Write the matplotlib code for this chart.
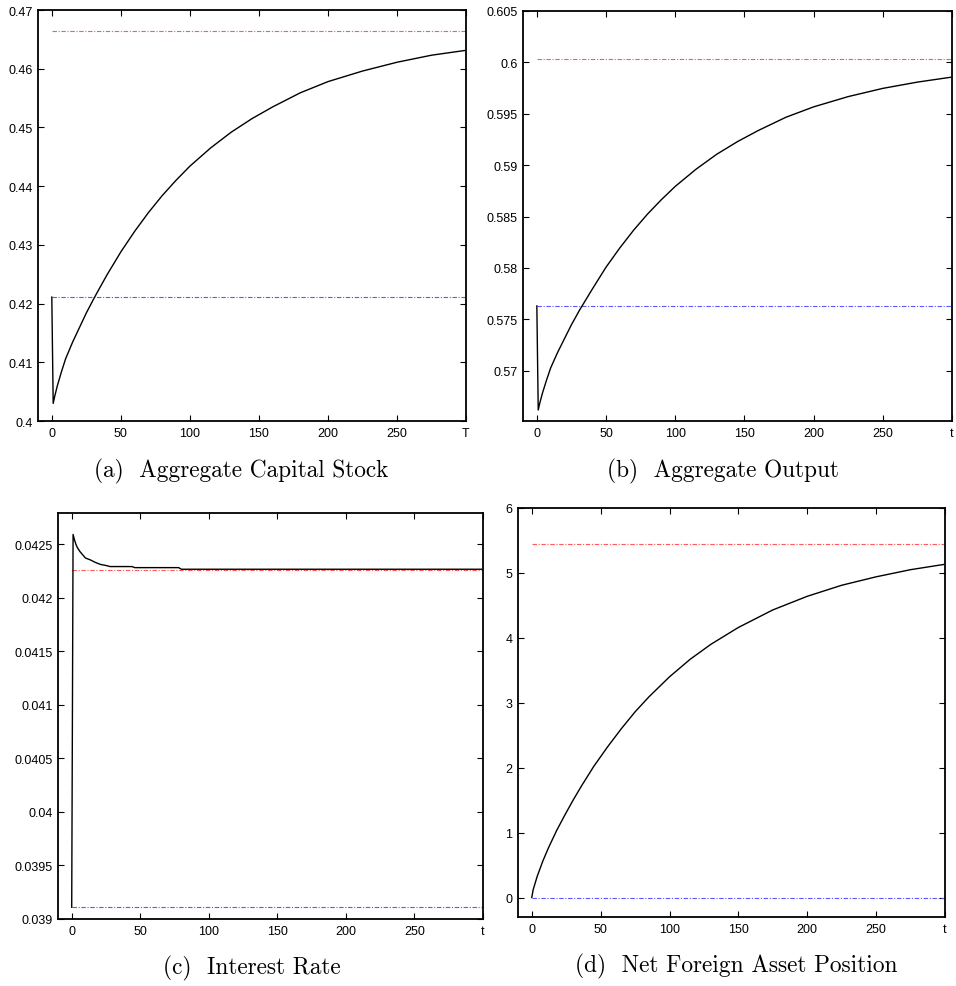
import matplotlib.pyplot as plt

W, H = 956, 987

# (a) aggregate capital stock
cap_t = [0, 1, 2, 4, 7, 10, 15, 20, 25, 31, 40, 50, 60, 70, 80, 90, 100, 115, 130, 145,
         160, 180, 200, 225, 250, 275, 299]
cap_k = [0.4211, 0.4030, 0.4041, 0.4060, 0.4084, 0.4106, 0.4134, 0.4159, 0.4184, 0.4211,
         0.4249, 0.4288, 0.4323, 0.4355, 0.4384, 0.4410, 0.4434, 0.4465, 0.4492, 0.4515,
         0.4535, 0.4559, 0.4578, 0.4596, 0.4611, 0.4623, 0.4631]
cap_new, cap_old = 0.4664, 0.4211

# (b) aggregate output
out_t = [0, 1, 2, 4, 7, 10, 15, 20, 25, 31, 40, 50, 60, 70, 80, 90, 100, 115, 130, 145,
         160, 180, 200, 225, 250, 275, 299]
out_y = [0.5763, 0.56617, 0.56677, 0.56779, 0.56908, 0.57027, 0.57177, 0.57312, 0.57447,
         0.57592, 0.57792, 0.58007, 0.58195, 0.58368, 0.58524, 0.58664, 0.58793, 0.5896,
         0.59106, 0.59229, 0.59337, 0.59466, 0.59567, 0.59667, 0.59747, 0.59808, 0.59855]
out_new, out_old = 0.60032, 0.5763

# (c) interest rate
r_t = [0, 1, 2, 3, 4, 5, 6, 8, 10, 12, 14, 17, 21, 25, 28, 44, 46, 78, 80, 299]
r_y = [0.03911, 0.04259, 0.04254, 0.04250, 0.04247, 0.04245, 0.04243, 0.04240, 0.04237,
       0.04236, 0.04235, 0.04233, 0.04231, 0.04230, 0.04229, 0.04229, 0.04228, 0.04228,
       0.042265, 0.042265]
r_new, r_old = 0.042255, 0.03911

# (d) net foreign asset position
nfa_t = [0, 1, 4, 8, 12, 18, 24, 30, 36, 45, 55, 65, 75, 85, 100, 115, 130, 150, 175,
         200, 225, 250, 275, 299]
nfa = [0.0, 0.12, 0.33, 0.56, 0.76, 1.03, 1.27, 1.50, 1.715, 2.02, 2.32, 2.60, 2.86,
       3.09, 3.40, 3.67, 3.90, 4.16, 4.43, 4.64, 4.81, 4.94, 5.05, 5.13]
nfa_new, nfa_old = 5.44, 0.0

xticks = [0, 50, 100, 150, 200, 250, 300]

panels = [
    dict(box=(38, 466, 11, 422), t=cap_t, y=cap_k, new=cap_new, old=cap_old,
         ylim=(0.40, 0.47), yticks=[0.40, 0.41, 0.42, 0.43, 0.44, 0.45, 0.46, 0.47],
         ylabels=['0.4', '0.41', '0.42', '0.43', '0.44', '0.45', '0.46', '0.47'],
         last='T', cap='(a)  Aggregate Capital Stock', capxy=(241, 471)),
    dict(box=(523, 952, 12, 422), t=out_t, y=out_y, new=out_new, old=out_old,
         ylim=(0.5651, 0.605), yticks=[0.57, 0.575, 0.58, 0.585, 0.59, 0.595, 0.6, 0.605],
         ylabels=['0.57', '0.575', '0.58', '0.585', '0.59', '0.595', '0.6', '0.605'],
         last='t', cap='(b)  Aggregate Output', capxy=(723, 471)),
    dict(box=(58, 483, 514, 920), t=r_t, y=r_y, new=r_new, old=r_old,
         ylim=(0.039, 0.04279), yticks=[0.039, 0.0395, 0.04, 0.0405, 0.041, 0.0415, 0.042, 0.0425],
         ylabels=['0.039', '0.0395', '0.04', '0.0405', '0.041', '0.0415', '0.042', '0.0425'],
         last='t', cap='(c)  Interest Rate', capxy=(252, 968)),
    dict(box=(518, 945, 509, 918), t=nfa_t, y=nfa, new=nfa_new, old=nfa_old,
         ylim=(-0.3, 6), yticks=[0, 1, 2, 3, 4, 5, 6],
         ylabels=['0', '1', '2', '3', '4', '5', '6'],
         last='t', cap='(d)  Net Foreign Asset Position', capxy=(736, 966)),
]

fig = plt.figure(figsize=(W / 100, H / 100), dpi=100)

for p in panels:
    l, r, top, bot = p['box']
    ax = fig.add_axes([l / W, 1 - bot / H, (r - l) / W, (bot - top) / H])
    ax.plot([0, 300], [p['new'], p['new']], color='#ff5a5a', lw=0.8,
            linestyle=(0, (4, 1.5, 1, 1.5)))
    ax.plot([0, 300], [p['old'], p['old']], color='#5a5aff', lw=0.8,
            linestyle=(0, (4, 1.5, 1, 1.5)))
    ax.plot(p['t'], p['y'], color='black', lw=1.0)
    ax.set_xlim(-10, 300)
    ax.set_ylim(*p['ylim'])
    ax.set_xticks(xticks)
    ax.set_xticklabels(['0', '50', '100', '150', '200', '250', p['last']])
    ax.set_yticks(p['yticks'])
    ax.set_yticklabels(p['ylabels'])
    ax.tick_params(direction='in', length=4, width=0.8, top=True, right=True,
                   labelsize=9, pad=4)
    for lab in ax.get_xticklabels() + ax.get_yticklabels():
        lab.set_family('Liberation Sans')
    for s in ax.spines.values():
        s.set_linewidth(1.3)
    fig.text(p['capxy'][0] / W, 1 - p['capxy'][1] / H, p['cap'], ha='center', va='center',
             fontsize=16.8, family=['cmr10', 'DejaVu Serif'])

fig.savefig('out.png', dpi=100)
